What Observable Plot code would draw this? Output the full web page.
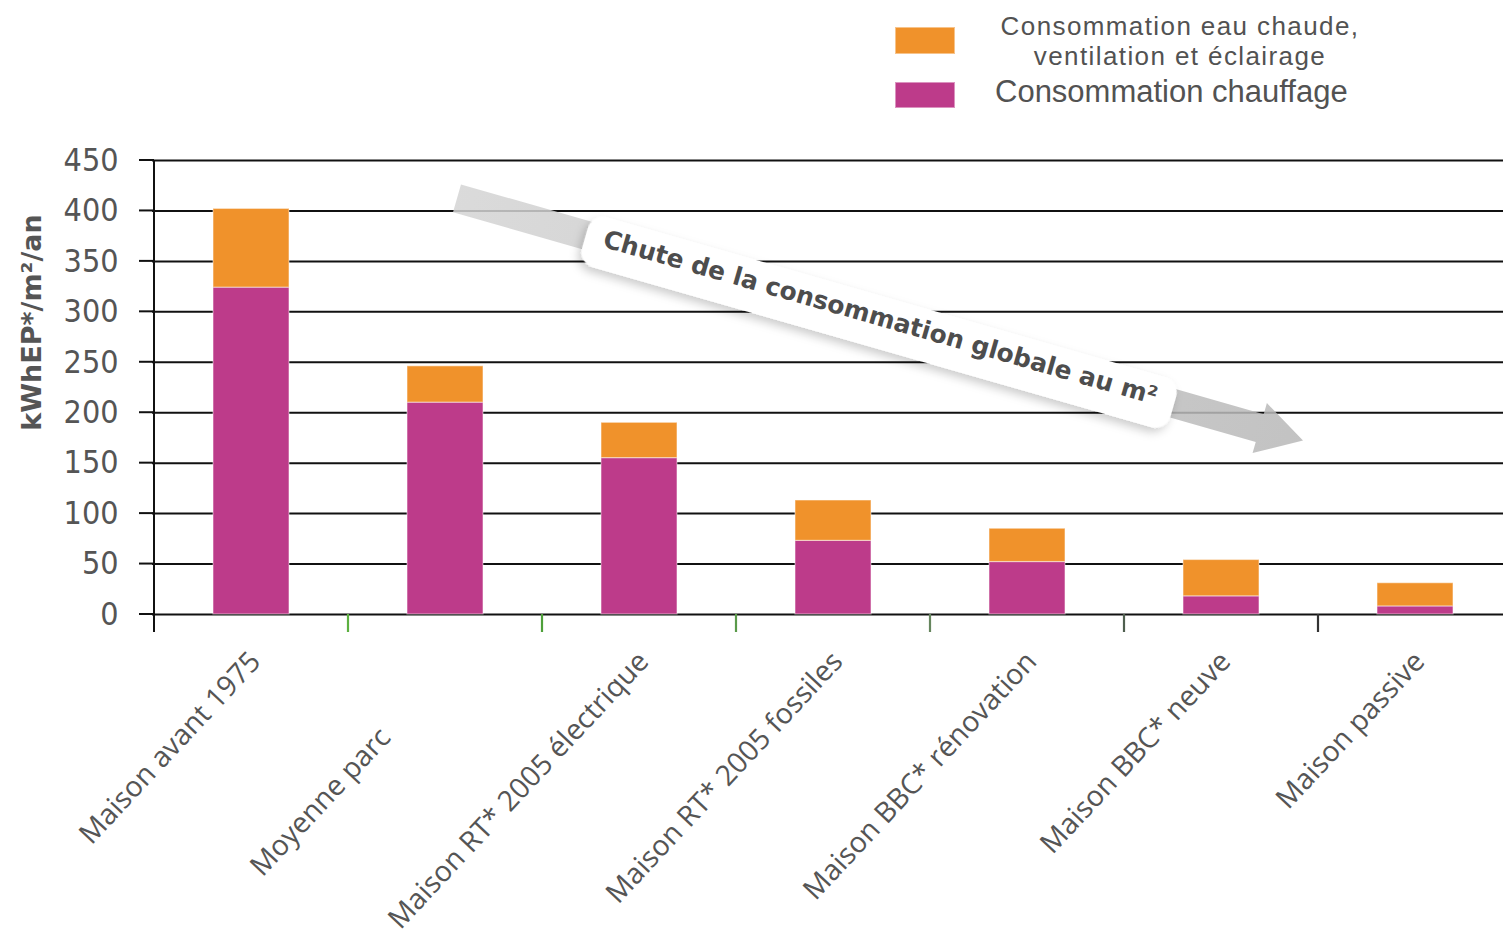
<!DOCTYPE html>
<html>
<head>
<meta charset="utf-8">
<script src="https://cdn.jsdelivr.net/npm/d3@7"></script>
<script src="https://cdn.jsdelivr.net/npm/@observablehq/plot@0.6"></script>
<style>
  body { margin: 0; background: #fff; }
  #wrap { position: relative; width: 1503px; }
  #legend { position: relative; height: 120px; font-family: "Liberation Sans", Arial, sans-serif; color: #525252; }
  .sw { position: absolute; left: 895px; width: 60px; height: 27px; box-shadow: inset 0 0 0 1px rgba(255,255,255,0.45); }
  .lt { position: absolute; white-space: nowrap; }
</style>
</head>
<body>
<div id="wrap"><div id="legend"></div><div id="chart"></div></div>
<script>
// ---- Data ----
const categories = [
  "Maison avant 1975",
  "Moyenne parc",
  "Maison RT* 2005 électrique",
  "Maison RT* 2005 fossiles",
  "Maison BBC* rénovation",
  "Maison BBC* neuve",
  "Maison passive"
];
const chauffage = [324, 210, 155, 73, 52, 18, 8];
const eauVentilEclairage = [78, 36, 35, 40, 33, 36, 23];
const seriesNames = ["Consommation chauffage", "Consommation eau chaude, ventilation et éclairage"];
const legendLines = [["Consommation eau chaude,", "ventilation et éclairage"], ["Consommation chauffage"]];
const yTicks = [0, 50, 100, 150, 200, 250, 300, 350, 400, 450];
const yLabel = "kWhEP*/m²/an";
const arrowLabel = "Chute de la consommation globale au m²";
const arrowFrom = {category: "Moyenne parc", value: 412};
const arrowTo = {category: "Maison BBC* neuve", value: 172};

// ---- Styles ----
const colMagenta = "#BD3B8A";
const colOrange = "#F0922B";
const boundaryTickColors = ["#5cb040", "#4ea03a", "#5a9a4a", "#66865e", "#4f5f4f", "#333333"];

const rows = categories.flatMap((c, i) => [
  {category: c, serie: seriesNames[0], value: chauffage[i]},
  {category: c, serie: seriesNames[1], value: eauVentilEclairage[i]}
]);

// ---- Legend (HTML above the SVG) ----
const legend = document.getElementById("legend");
legend.innerHTML = `
  <div class="sw" style="top:27px;background:${colOrange}"></div>
  <div class="lt" style="left:960px;width:440px;top:11px;text-align:center;font-size:26px;letter-spacing:1.4px;line-height:30px">${legendLines[0][0]}</div>
  <div class="lt" style="left:960px;width:440px;top:41px;text-align:center;font-size:26px;letter-spacing:1.4px;line-height:30px">${legendLines[0][1]}</div>
  <div class="sw" style="top:82px;height:26px;background:${colMagenta}"></div>
  <div class="lt" style="left:995px;top:76px;font-size:31px;line-height:32px">${legendLines[1][0]}</div>`;

// ---- Custom marks ----
function axisAndBoundaries(index, scales, values, dims) {
  const {x, y} = scales;
  const bw = x.bandwidth();
  const step = x.step ? x.step() : bw / 0.39;
  const g = d3.create("svg:g");
  const y0 = y(0);
  const left = x(categories[0]) - (step - bw) / 2;
  g.append("line").attr("x1", left).attr("x2", left)
    .attr("y1", y(450)).attr("y2", y0 + 18)
    .attr("stroke", "#111").attr("stroke-width", 2);
  yTicks.forEach(t => {
    g.append("line").attr("x1", left - 15).attr("x2", left)
      .attr("y1", y(t)).attr("y2", y(t))
      .attr("stroke", "#111").attr("stroke-width", 2);
  });
  categories.slice(1).forEach((c, i) => {
    const xp = x(c) - (step - bw) / 2;
    g.append("line").attr("x1", xp).attr("x2", xp)
      .attr("y1", y0).attr("y2", y0 + 18)
      .attr("stroke", boundaryTickColors[i]).attr("stroke-width", 2.2);
  });
  return g.node();
}

function arrowMark(index, scales) {
  const {x, y} = scales;
  const bw = x.bandwidth();
  const x1 = x(arrowFrom.category) + bw / 2 + 12, y1 = y(arrowFrom.value);
  const x2 = x(arrowTo.category) + bw / 2 + 82, y2 = y(arrowTo.value);
  const len = Math.hypot(x2 - x1, y2 - y1);
  const ang = Math.atan2(y2 - y1, x2 - x1) * 180 / Math.PI;
  const g = d3.create("svg:g");
  const defs = g.append("defs");
  const grad = defs.append("linearGradient").attr("id", "arrowGrad")
    .attr("x1", 0).attr("x2", 1).attr("y1", 0).attr("y2", 0);
  grad.append("stop").attr("offset", "0%").attr("stop-color", "#d4d4d4");
  grad.append("stop").attr("offset", "100%").attr("stop-color", "#b8b8b8");
  const filt = defs.append("filter").attr("id", "boxShadow")
    .attr("x", "-10%").attr("y", "-60%").attr("width", "120%").attr("height", "220%");
  filt.append("feDropShadow").attr("dx", -2).attr("dy", 5).attr("stdDeviation", 5)
    .attr("flood-color", "#000").attr("flood-opacity", 0.2);
  const a = g.append("g").attr("transform", `translate(${x1},${y1}) rotate(${ang})`);
  const hw = 14.5, hh = 26, hl = 45;
  a.append("path")
    .attr("d", `M0,${-hw}L${len - hl},${-hw}L${len - hl},${-hh}L${len},0L${len - hl},${hh}L${len - hl},${hw}L0,${hw}Z`)
    .attr("fill", "url(#arrowGrad)").attr("fill-opacity", 0.85);
  const mid = len * 0.5;
  a.append("rect").attr("x", mid - 306).attr("y", -26 + 3).attr("width", 612).attr("height", 52)
    .attr("rx", 16).attr("fill", "white").attr("filter", "url(#boxShadow)");
  a.append("text").attr("x", mid).attr("y", -2)
    .attr("text-anchor", "middle").attr("dominant-baseline", "central")
    .attr("font-family", "'DejaVu Sans', sans-serif").attr("font-weight", "bold")
    .attr("font-size", 25).attr("fill", "#4d4d4d")
    .attr("textLength", 575).attr("lengthAdjust", "spacingAndGlyphs")
    .text(arrowLabel);
  return g.node();
}

const labelFont = "'Open Sans', sans-serif";
const plot = Plot.plot({
  width: 1503,
  height: 823,
  marginTop: 40,
  marginBottom: 329,
  marginLeft: 152,
  marginRight: 0,
  style: {background: "white", overflow: "visible"},
  x: {domain: categories, range: [152, 1513], paddingInner: 0.61, paddingOuter: 0.305, axis: null},
  y: {domain: [0, 450]},
  color: {domain: seriesNames, range: [colMagenta, colOrange]},
  marks: [
    Plot.ruleY(yTicks, {stroke: "#111", strokeWidth: 2}),
    axisAndBoundaries,
    Plot.barY(rows, {x: "category", y: "value", fill: "serie", stroke: "white", strokeOpacity: 0.45, strokeWidth: 1.2}),
    arrowMark,
    Plot.axisY({ticks: yTicks, tickSize: 0, tickPadding: 34, label: null, tickFormat: d => String(d),
      fontSize: 32, fontFamily: "'Liberation Sans Narrow', 'DejaVu Sans Condensed', 'Roboto', sans-serif", fill: "#555"}),
    Plot.text([yLabel], {text: d => d, frameAnchor: "left", textAnchor: "middle", dx: -120, dy: -65, rotate: -90,
      fontSize: 27, fontWeight: "bold", fontFamily: "'DejaVu Sans', sans-serif", fill: "#555"}),
    Plot.text(categories.filter(c => c !== "Moyenne parc"), {x: d => d, y: () => 0, text: d => d,
      rotate: -47, textAnchor: "end", lineAnchor: "middle", dx: 4, dy: 42,
      fontSize: 28.5, fontFamily: labelFont, fill: "#555"}),
    Plot.text(categories.filter(c => c === "Moyenne parc"), {x: d => d, y: () => 0, text: d => d,
      rotate: -47, textAnchor: "end", lineAnchor: "middle", dx: -60, dy: 118,
      fontSize: 28.5, fontFamily: labelFont, fill: "#555"})
  ]
});
document.getElementById("chart").appendChild(plot);
</script>
</body>
</html>
